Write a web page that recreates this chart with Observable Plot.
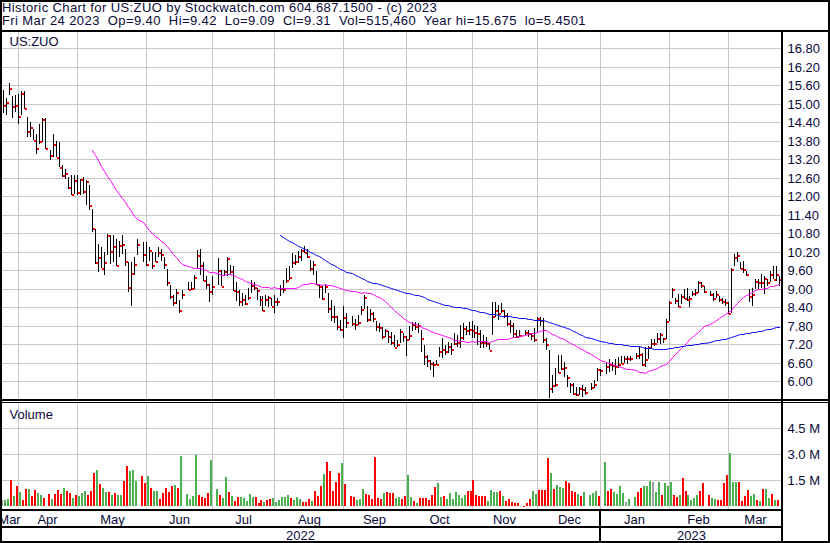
<!DOCTYPE html>
<html><head><meta charset="utf-8">
<script src="https://cdn.jsdelivr.net/npm/d3@7"></script>
<script src="https://cdn.jsdelivr.net/npm/@observablehq/plot@0.6"></script>
<style>
body{margin:0;background:#fff}
#c{position:relative;width:830px;height:543px;overflow:hidden;background:#fff;font-family:"Liberation Sans",Arial,sans-serif;color:#0a0a3a}
.ln{position:absolute;background:#000}
.hd{position:absolute;left:2px;font-size:13px;line-height:12px;letter-spacing:0.4px;white-space:pre}
.pl{position:absolute;left:0}
</style></head><body><div id="c"></div>
<script>
const titleLine = "Historic Chart for US:ZUO by Stockwatch.com 604.687.1500 - (c) 2023";
const quoteLine = "Fri Mar 24 2023  Op=9.40  Hi=9.42  Lo=9.09  Cl=9.31  Vol=515,460  Year hi=15.675  lo=5.4501";
const symbolName = "US:ZUO";
const startDate = "2022-03-25", endDate = "2023-03-24";   // weekday calendar shown
const monthLabels = ["Mar","Apr","May","Jun","Jul","Aug","Sep","Oct","Nov","Dec","Jan","Feb","Mar"];
const yearLabels = ["2022","2023"];
const priceTicks = [6.00,6.60,7.20,7.80,8.40,9.00,9.60,10.20,10.80,11.40,12.00,12.60,13.20,13.80,14.40,15.00,15.60,16.20,16.80];
const volumeTicks = [1.5,3.0,4.5];

// one entry per weekday; null = market holiday
const high = [15.44,15.19,15.675,15.25,15.28,15.33,15.40,15.40,14.57,14.41,
 14.19,14.03,14.35,14.54,14.54,null,13.49,14.03,13.78,13.76,
 13.00,12.89,12.62,12.68,12.70,12.70,12.57,12.62,12.51,12.35,
 11.59,10.92,10.46,10.35,10.19,10.78,10.75,10.73,10.62,10.56,
 10.73,10.29,9.86,9.86,10.02,10.62,null,10.51,10.51,10.35,
 10.19,10.19,10.35,10.29,10.02,9.64,9.12,8.78,9.00,8.62,
 8.94,null,9.21,9.21,9.43,10.24,10.29,9.85,9.40,9.15,
 9.42,null,9.99,9.61,9.61,10.02,9.78,9.72,9.23,8.96,
 8.86,8.80,9.02,9.29,9.23,9.02,8.75,8.75,8.80,8.77,
 8.69,8.80,8.69,9.13,9.29,9.67,9.72,10.15,10.10,10.21,
 10.28,10.37,10.28,9.94,9.88,9.56,9.13,9.07,9.13,8.86,
 8.64,8.42,8.10,7.99,8.42,8.21,null,8.10,8.00,8.15,
 8.45,8.80,8.45,8.35,8.24,7.96,7.88,7.75,7.69,7.61,
 7.58,7.50,7.34,7.69,7.56,7.47,7.77,7.93,7.93,7.88,
 7.66,7.17,6.84,6.68,6.63,6.68,7.12,7.39,7.17,7.28,
 7.22,7.55,7.49,7.82,7.87,7.79,7.93,7.96,7.82,7.77,
 7.66,7.49,7.44,7.22,8.58,8.58,8.47,8.52,8.31,8.20,
 7.98,7.87,7.66,7.66,null,7.66,7.66,7.55,7.71,8.09,
 8.09,8.04,7.39,7.01,6.20,6.41,6.84,6.84,6.63,6.20,
 5.92,5.92,5.82,5.82,5.87,5.82,null,5.92,6.03,6.43,
 6.40,null,6.58,6.71,6.63,6.71,6.78,6.81,6.81,6.81,
 6.81,null,6.92,7.14,6.92,7.09,7.14,7.36,7.36,7.57,
 7.57,7.41,8.01,8.60,9.03,8.71,8.82,8.82,8.98,9.03,
 8.76,8.93,8.98,9.25,9.20,9.09,null,8.93,8.87,8.93,
 8.76,8.71,8.66,8.55,9.68,10.12,10.19,9.85,9.90,9.58,
 8.98,9.03,9.31,9.31,9.47,9.41,9.31,9.58,9.74,9.74,
 9.42];
const low = [14.70,14.65,15.30,14.54,14.73,14.35,14.65,14.84,13.92,13.92,
 13.81,13.38,13.70,13.76,13.54,null,13.16,13.27,13.27,12.95,
 12.62,12.57,12.24,12.05,12.08,12.03,12.03,12.08,11.70,11.54,
 10.83,9.81,9.54,9.67,9.45,10.08,9.81,9.86,9.75,10.02,
 10.13,9.75,8.89,8.45,9.43,10.08,null,9.86,9.75,9.91,
 9.64,9.86,10.02,9.91,9.64,9.10,8.67,8.45,8.51,8.22,
 8.67,null,8.94,8.94,9.00,9.64,9.43,9.25,8.98,8.57,
 8.80,null,9.13,9.07,9.40,9.40,9.45,8.91,8.59,8.42,
 8.42,8.48,8.64,8.86,8.96,8.64,8.42,8.26,8.42,8.40,
 8.42,8.21,8.42,8.75,8.86,9.18,9.29,9.67,9.78,9.83,
 9.88,10.15,9.99,9.56,9.45,9.13,8.69,8.64,8.86,8.21,
 7.94,7.88,7.66,7.61,7.39,7.72,null,7.77,7.65,7.83,
 8.15,8.35,7.90,7.95,7.90,7.62,7.58,7.36,7.42,7.23,
 7.18,7.10,7.12,7.23,7.28,6.80,7.34,7.61,7.66,7.56,
 6.95,6.52,6.44,6.36,6.12,6.52,6.79,6.74,6.84,6.90,
 6.84,7.17,7.12,7.06,7.33,7.49,7.49,7.39,7.39,7.17,
 7.06,7.06,7.12,7.01,7.49,8.09,7.98,8.20,8.04,7.77,
 7.55,7.39,7.39,7.44,null,7.49,7.44,7.33,7.28,7.60,
 7.77,7.22,7.01,5.4501,5.60,5.82,6.25,6.36,6.14,5.82,
 5.60,5.55,5.51,5.55,5.49,5.55,null,5.71,5.76,6.00,
 6.17,null,6.22,6.30,6.32,6.20,6.42,6.54,6.60,6.54,
 6.65,null,6.71,6.71,6.49,6.47,6.71,7.03,7.14,7.25,
 7.19,7.25,7.36,7.95,8.71,8.49,8.39,8.49,8.66,8.60,
 8.39,8.76,8.76,8.87,9.03,8.87,null,8.76,8.60,8.71,
 8.55,8.49,8.44,8.17,8.22,9.74,9.85,9.63,9.52,9.41,
 8.55,8.44,8.98,8.98,9.03,8.82,9.09,9.20,9.31,9.25,
 9.09];
const close = [14.97,15.06,15.51,14.93,14.95,14.60,15.35,14.86,14.11,14.25,
 13.83,13.56,13.78,14.52,13.56,null,13.33,13.70,13.28,12.96,
 12.70,12.75,12.30,12.06,12.51,12.13,12.55,12.16,12.48,11.70,
 10.96,9.86,10.02,9.68,9.86,10.73,10.21,10.38,9.78,10.40,
 10.46,9.89,9.05,9.50,9.80,10.45,null,10.11,9.80,10.24,
 9.78,9.91,10.19,10.11,9.80,9.23,8.76,8.56,8.89,8.29,
 8.81,null,8.98,9.02,9.37,10.08,9.78,9.28,9.15,8.93,
 9.10,null,9.59,9.10,9.56,9.98,9.56,8.96,8.91,8.59,
 8.67,8.52,8.72,9.13,9.05,8.96,8.67,8.31,8.67,8.72,
 8.45,8.61,8.59,9.02,8.99,9.29,9.37,9.86,9.88,10.05,
 10.24,10.20,10.05,9.67,9.80,9.15,9.09,8.69,9.09,8.37,
 8.12,8.10,7.80,7.69,8.07,7.90,null,7.88,7.84,7.93,
 8.34,8.74,8.00,8.20,8.06,7.78,7.74,7.45,7.64,7.45,
 7.28,7.12,7.20,7.61,7.45,7.36,7.48,7.85,7.79,7.83,
 7.38,6.81,6.68,6.60,6.55,6.55,6.99,7.03,6.99,7.14,
 7.05,7.25,7.28,7.44,7.71,7.66,7.68,7.66,7.60,7.55,
 7.28,7.28,7.22,7.01,8.12,8.31,8.20,8.31,8.14,7.87,
 7.82,7.57,7.46,7.49,null,7.60,7.55,7.49,7.35,8.04,
 7.98,7.35,7.20,5.76,5.87,5.90,6.30,6.41,6.44,6.14,
 5.89,5.62,5.58,5.76,5.74,5.65,null,5.82,5.89,6.38,
 6.36,null,6.49,6.55,6.53,6.49,6.56,6.60,6.74,6.74,
 6.76,null,6.85,6.87,6.54,6.73,7.09,7.25,7.25,7.41,
 7.52,7.39,7.95,8.55,9.00,8.62,8.44,8.76,8.71,8.66,
 8.68,8.87,8.89,9.20,9.11,8.93,null,8.82,8.68,8.82,
 8.66,8.60,8.55,8.22,9.65,10.04,10.09,9.68,9.65,9.49,
 8.76,8.82,9.25,9.22,9.22,9.36,9.22,9.49,9.31,9.49,
 9.31];
// volume in millions of shares
const volume = [0.52,0.56,0.59,1.67,0.75,1.33,1.00,0.54,1.17,1.17,
 0.77,1.09,0.94,0.83,0.65,null,0.88,0.59,0.88,1.09,
 0.88,1.21,1.04,0.94,0.65,0.83,0.77,0.94,1.06,0.83,
 1.06,2.09,2.27,1.46,1.23,1.00,1.00,0.83,0.94,0.83,
 0.83,1.63,2.50,2.21,2.27,1.63,null,1.92,1.52,1.92,
 1.23,1.06,1.06,0.59,0.94,1.23,1.00,1.34,1.40,1.23,
 3.08,null,0.88,0.59,0.77,3.13,0.83,0.71,0.65,0.94,
 2.84,null,1.17,0.83,0.65,1.86,1.00,0.77,0.48,0.71,
 0.71,0.65,0.48,0.88,0.71,0.71,0.36,0.54,0.42,0.54,
 0.59,0.65,0.42,0.54,0.71,0.71,0.83,0.65,0.54,0.71,
 0.59,0.42,0.42,0.59,0.48,1.06,0.77,1.34,2.04,2.73,
 2.21,1.06,1.58,2.09,2.67,1.46,null,0.77,0.71,0.54,
 0.59,1.17,0.88,0.83,0.59,3.02,0.65,0.59,0.94,1.00,
 0.94,0.94,0.65,0.71,0.59,0.77,1.98,0.69,0.46,0.36,
 0.65,0.65,0.65,0.56,0.83,1.29,1.52,0.71,0.77,0.59,
 0.94,0.59,1.00,0.83,0.65,0.83,1.06,1.06,1.69,0.83,
 0.77,0.77,0.77,0.48,1.11,1.00,1.00,1.06,0.77,0.48,
 0.59,0.42,0.36,0.36,null,0.13,0.36,0.59,1.06,0.88,
 1.11,1.11,1.11,2.96,2.09,1.17,1.40,1.29,1.23,1.63,
 1.52,1.06,1.00,0.88,0.77,1.00,null,0.83,0.94,1.06,
 0.77,null,2.73,1.06,1.17,1.00,0.88,1.34,0.94,0.42,
 0.59,null,0.71,1.00,1.23,1.33,1.34,1.63,1.58,1.00,
 1.59,0.83,1.52,1.34,1.58,0.83,0.71,0.83,1.81,1.06,
 0.83,0.54,0.65,0.83,1.04,1.52,null,0.83,0.65,0.59,
 0.52,0.52,1.52,1.98,3.25,1.58,1.58,1.58,0.48,0.79,
 1.13,0.75,0.90,0.52,0.50,1.17,1.17,0.65,0.88,0.54,
 0.515];
// day's direction: g = up, r = down, n = unchanged, - = holiday
const direction = "nggrgrgrrg"+"rrggr-rgrr"+"rgrrgrgggr"+"rrgrggrgrg"+"grrggg-rrg"+"rggrrrrrgr"+"g-ggggrrrr"+"g-grggrgrr"+"gggggrrrgr"+"rggggggrgg"+
 "grrrgrrrgr"+"rrrrgr-rrg"+"ggrrrrrrgr"+"rrggrrggrg"+"rrrrrrggrg"+"ggggggrrrr"+"rrrggggrgr"+"rrrr-rrrgg"+"rrrrgrgggr"+"rrrgrg-ggg"+
 "r-grrggggn"+"g-grrgggng"+"grgggrrgrr"+"ggggrr-rgg"+"rrrrgggrrr"+"rggrgrggrg"+"r";

// ---- build ----
const days = [];
for (let t = Date.parse(startDate); t <= Date.parse(endDate); t += 864e5) {
  const d = new Date(t), w = d.getUTCDay();
  if (w !== 0 && w !== 6) days.push(d);
}
const trades = days.map((d, i) => ({i, date: d, high: high[i], low: low[i], close: close[i], volume: volume[i], dir: direction[i]}))
  .filter(d => d.close != null);

const xDomain = [-0.904, 260.98];
const monthStart = monthLabels.map((_, k) => new Date(Date.UTC(2022, 2 + k, 1)));
const gridIdx = monthStart.map(ms => { let idx = null; days.forEach((d, i) => { if (d <= ms) idx = i; }); return idx; });
const bounds = gridIdx.map((g, k) => g == null ? xDomain[0] : g).concat([xDomain[1]]);
const monthMarks = monthLabels.map((name, k) => ({name, x: (bounds[k] + bounds[k + 1]) / 2}));
const gridLines = gridIdx.filter(g => g != null);
const yearBoundary = gridIdx[monthLabels.indexOf("Jan")];
const yearMarks = [{name: yearLabels[0], x: (xDomain[0] + yearBoundary) / 2}, {name: yearLabels[1], x: (yearBoundary + xDomain[1]) / 2}];

const ink = "#0a0a3a", gridColor = "#c8c8c8";
const base = {width: 830, marginLeft: 0, marginRight: 48, marginTop: 0, marginBottom: 0,
  style: {fontFamily: '"Liberation Sans", Arial, sans-serif', fontSize: "13px", color: ink, background: "transparent", overflow: "hidden"}};
const xs = {domain: xDomain, round: true, axis: null};

const price = Plot.plot({...base, height: 367,
  x: xs,
  y: {domain: [5.4156, 17.3312], round: true, axis: null},
  marks: [
    Plot.ruleY(priceTicks, {stroke: gridColor}),
    Plot.ruleX(gridLines, {stroke: gridColor}),
    Plot.ruleX(trades, {x: "i", y1: "low", y2: "high", stroke: "#000"}),
    Plot.dot(trades, {x: "i", y: "close", symbol: "square", r: 1.13, fill: "#ff0000", dx: 1.5, dy: 0.5}),
    Plot.lineY(trades, Plot.windowY({k: 30, anchor: "end", strict: true}, {x: "i", y: "close", stroke: "#ff00ff", strokeWidth: 1})),
    Plot.lineY(trades, Plot.windowY({k: 90, anchor: "end", strict: true}, {x: "i", y: "close", stroke: "#0000ff", strokeWidth: 1})),
    Plot.text(priceTicks, {y: d => d, text: d => d.toFixed(2), frameAnchor: "right", textAnchor: "start", lineAnchor: "middle", dx: 5, fill: ink}),
    Plot.text([symbolName], {text: d => d, frameAnchor: "top-left", textAnchor: "start", lineAnchor: "top", dx: 9, dy: 4.5, fill: ink})
  ]});

const vol = Plot.plot({...base, height: 106,
  x: xs,
  y: {domain: [-0.156, 5.961], round: true, axis: null},
  color: {domain: ["g", "r", "n"], range: ["#4caf50", "#ff0000", "#a0a0a0"]},
  marks: [
    Plot.ruleY(volumeTicks, {stroke: gridColor}),
    Plot.ruleX(gridLines, {stroke: gridColor}),
    Plot.ruleX(trades, {x: "i", y1: 0, y2: "volume", stroke: "dir", strokeWidth: 2, dx: -1.5, insetBottom: -3}),
    Plot.text(volumeTicks, {y: d => d, text: d => d.toFixed(1) + " M", frameAnchor: "right", textAnchor: "start", lineAnchor: "middle", dx: 5, fill: ink}),
    Plot.text(["Volume"], {text: d => d, frameAnchor: "top-left", textAnchor: "start", lineAnchor: "top", dx: 9, dy: 6, fill: ink})
  ]});

const strip = Plot.plot({...base, height: 32,
  x: xs,
  marks: [
    Plot.ruleX([yearBoundary], {y1: 0, y2: 30, stroke: "#000", strokeWidth: 2, dx: -0.5}),
    Plot.text(monthMarks, {x: "x", text: "name", frameAnchor: "top", lineAnchor: "top", dy: 3, fill: ink}),
    Plot.text(yearMarks, {x: "x", text: "name", frameAnchor: "top", lineAnchor: "top", dy: 19.5, fill: ink})
  ]});

const c = document.getElementById("c");
function place(node, top) { const w = document.createElement("div"); w.className = "pl"; w.style.top = top + "px"; w.appendChild(node); c.appendChild(w); }
function hdr(text, top) { const d = document.createElement("div"); d.className = "hd"; d.style.top = top + "px"; d.textContent = text; c.appendChild(d); }
function line(l, t, w, h) { const d = document.createElement("div"); d.className = "ln"; Object.assign(d.style, {left: l + "px", top: t + "px", width: w + "px", height: h + "px"}); c.appendChild(d); }
hdr(titleLine, 2);
hdr(quoteLine, 15);
place(price, 32);
place(vol, 403);
place(strip, 511);
line(0, 0, 830, 2); line(0, 0, 2, 543); line(828, 0, 2, 543); line(0, 541, 830, 2);
line(0, 30, 830, 2); line(781, 30, 2, 513);
line(0, 399, 830, 2); line(0, 402, 830, 1);
line(0, 509, 782, 2); line(0, 526, 782, 2);
</script></body></html>
